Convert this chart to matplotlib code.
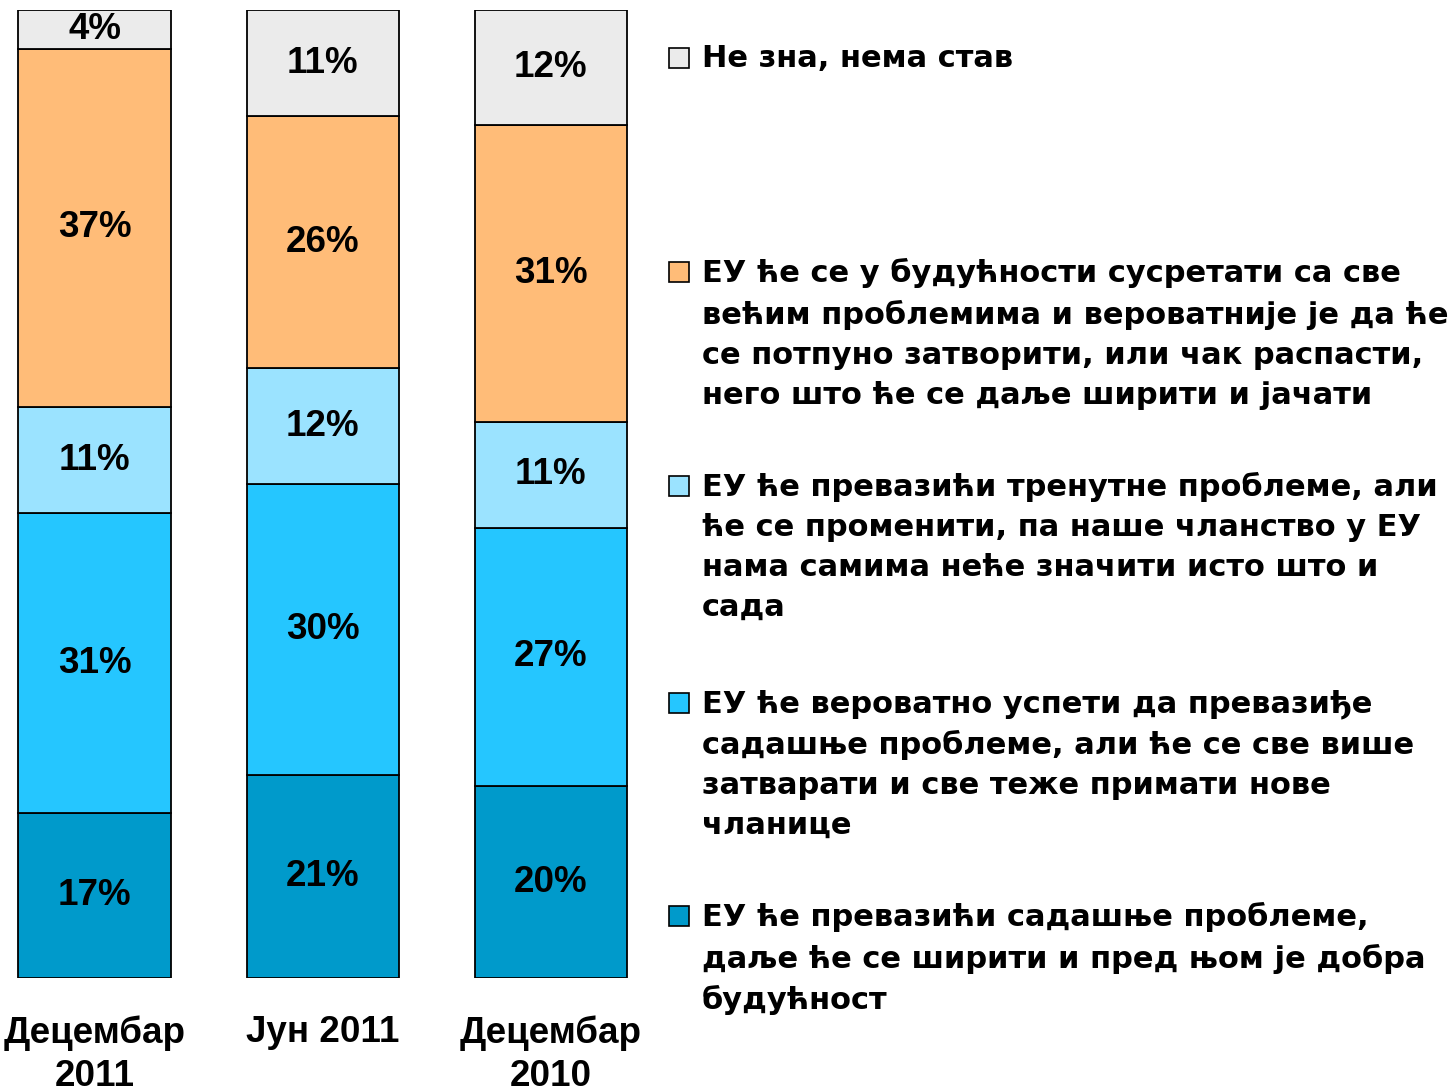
import numpy as np
import matplotlib.pyplot as plt
from matplotlib.patches import Rectangle

plt.rcParams['font.family'] = ['Liberation Sans', 'DejaVu Sans']
plt.rcParams['font.weight'] = 'bold'

# survey waves and answer shares (%), bottom to top
waves = ['Децембар\n2011', 'Јун 2011', 'Децембар\n2010']
good_future = [17, 21, 20]
manage_closing = [31, 30, 27]
change_meaning = [11, 12, 11]
bigger_problems = [37, 26, 31]
dont_know = [4, 11, 12]

series = [good_future, manage_closing, change_meaning, bigger_problems, dont_know]
colors = ['#009ACB', '#25C6FF', '#9BE3FF', '#FFBC78', '#EBEBEB']
legend_labels = [
    'ЕУ ће превазићи садашње проблеме,\nдаље ће се ширити и пред њом је добра\nбудућност',
    'ЕУ ће вероватно успети да превазиђе\nсадашње проблеме, али ће се све више\nзатварати и све теже примати нове\nчланице',
    'ЕУ ће превазићи тренутне проблеме, али\nће се променити, па наше чланство у ЕУ\nнама самима неће значити исто што и\nсада',
    'ЕУ ће се у будућности сусретати са све\nвећим проблемима и вероватније је да ће\nсе потпуно затворити, или чак распасти,\nнего што ће се даље ширити и јачати',
    'Не зна, нема став',
]
legend_y = [916, 703, 486, 272, 58]  # first-line centre, px from top

W, H = 1451, 1090
fig = plt.figure(figsize=(W / 100, H / 100), dpi=100)
ax = fig.add_axes([14.7 / W, 112 / H, 616 / W, 968 / H])

data = np.array(series, dtype=float)
shares = data / data.sum(axis=0) * 100
x = np.arange(len(waves))
bottom = np.zeros(len(waves))
for vals, raw, c in zip(shares, data, colors):
    ax.bar(x, vals, bottom=bottom, width=0.667, color=c, edgecolor='black', linewidth=1.3)
    for xi, b, v, r in zip(x, bottom, vals, raw):
        ax.text(xi, b + v / 2, f'{int(r)}%', ha='center', va='center',
                fontsize=26.5, fontweight='bold')
    bottom += vals

ax.set_xlim(-0.35, 2.35)
ax.set_ylim(0, 100)
ax.set_yticks([])
ax.set_xticks(x)
ax.set_xticklabels(waves, fontsize=26.5, fontweight='bold', linespacing=1.3)
ax.tick_params(axis='x', length=0, pad=27)
for s in ax.spines.values():
    s.set_visible(False)

# legend drawn by hand to keep the wide spacing of the original
for lab, c, yc in zip(legend_labels, colors, legend_y):
    fig.add_artist(Rectangle((669 / W, 1 - (yc + 10) / H), 20 / W, 20 / H,
                             transform=fig.transFigure, facecolor=c,
                             edgecolor='black', linewidth=1.2))
    fig.text(702 / W, 1 - (yc - 14) / H, lab, ha='left', va='top',
             fontsize=22, fontweight='bold', linespacing=1.48,
             family='DejaVu Sans')

fig.savefig('out.png', dpi=100)
